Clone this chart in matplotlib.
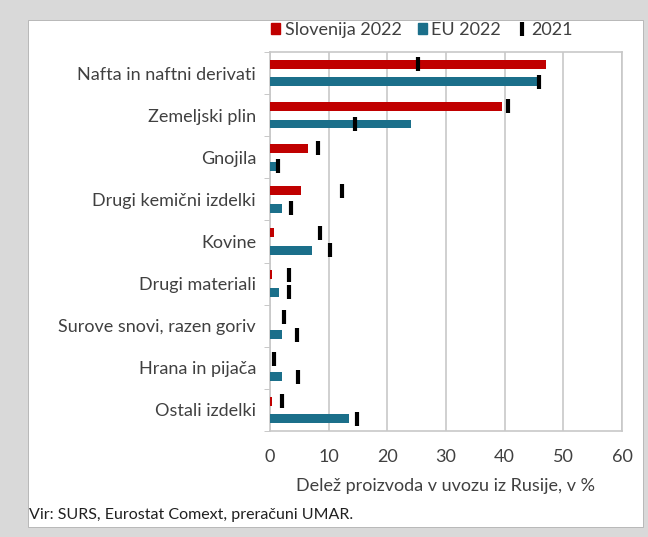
import numpy as np
import matplotlib
matplotlib.use("Agg")
import matplotlib.pyplot as plt
from matplotlib.patches import Rectangle
from matplotlib.lines import Line2D

plt.rcParams['font.family'] = ['Lato', 'DejaVu Sans']

categories = ["Nafta in naftni derivati", "Zemeljski plin", "Gnojila",
              "Drugi kemični izdelki", "Kovine", "Drugi materiali",
              "Surove snovi, razen goriv", "Hrana in pijača", "Ostali izdelki"]
si_2022 = [47.1, 39.5, 6.4, 5.3, 0.7, 0.35, 0.0, 0.0, 0.4]
eu_2022 = [46.0, 24.0, 1.0, 2.0, 7.1, 1.6, 2.1, 2.1, 13.5]
si_2021 = [25.3, 40.5, 8.1, 12.3, 8.5, 3.2, 2.4, 0.6, 2.0]
eu_2021 = [45.9, 14.5, 1.4, 3.5, 10.2, 3.3, 4.6, 4.8, 14.8]
xticks = [0, 10, 20, 30, 40, 50, 60]

red = '#c00000'
teal = '#1b6f8a'
txt = '#404040'

fig = plt.figure(figsize=(6.48, 5.37), dpi=100)
fig.patch.set_facecolor('#d9d9d9')
fig.patches.append(Rectangle((28 / 648, 10 / 537), 615 / 648, 507 / 537,
                             transform=fig.transFigure, facecolor='white',
                             edgecolor='#b0b0b0', linewidth=0.6, zorder=-10))

ax = fig.add_axes([270 / 648, 106 / 537, 352 / 648, 379 / 537])
ax.set_zorder(1)
y = np.arange(len(categories))
off = 0.21
h = 0.21
ax.barh(y - off, si_2022, height=h, color=red, zorder=3)
ax.barh(y + off, eu_2022, height=h, color=teal, zorder=3)
ax.plot(si_2021, y - off, linestyle='none', marker='|', ms=10, mew=3, color='black', zorder=4)
ax.plot(eu_2021, y + off, linestyle='none', marker='|', ms=10, mew=3, color='black', zorder=4)

ax.set_xlim(0, 60)
ax.set_ylim(len(categories) - 0.5, -0.5)
ax.set_xticks(xticks)
ax.set_xticklabels([str(v) for v in xticks], fontsize=13, color=txt)
ax.set_yticks(y)
ax.set_yticklabels(categories, fontsize=13, color=txt)
ax.set_yticks(np.arange(len(categories) + 1) - 0.5, minor=True)
ax.tick_params(axis='y', which='major', length=0, pad=10)
ax.tick_params(axis='y', which='minor', length=4, color='#bfbfbf', direction='out')
ax.tick_params(axis='x', length=0, pad=13)
ax.grid(axis='x', color='#c8c8c8', linewidth=1.2, zorder=0)
ax.set_axisbelow(True)
for s in ax.spines.values():
    s.set_color('#c8c8c8')
    s.set_linewidth(1.2)

ax.set_xlabel("Delež proizvoda v uvozu iz Rusije, v %", fontsize=13, color=txt, labelpad=9)

handles = [Rectangle((0, 0), 1, 1, color=red),
           Rectangle((0, 0), 1, 1, color=teal),
           Line2D([], [], linestyle='none', marker='|', ms=10, mew=3, color='black')]
fig.legend(handles, ["Slovenija 2022", "EU 2022", "2021"], loc='center left',
           bbox_to_anchor=(264 / 648, 1 - 30 / 537), ncol=3, frameon=False,
           fontsize=13, handlelength=0.5, handleheight=0.5, handletextpad=0.25,
           columnspacing=0.9, borderaxespad=0, labelcolor=txt)

fig.text(29 / 648, 1 - 515 / 537, "Vir: SURS, Eurostat Comext, preračuni UMAR.",
         fontsize=11.5, color='#202020', va='center', ha='left')

fig.savefig("out.png", dpi=100, facecolor=fig.get_facecolor())
